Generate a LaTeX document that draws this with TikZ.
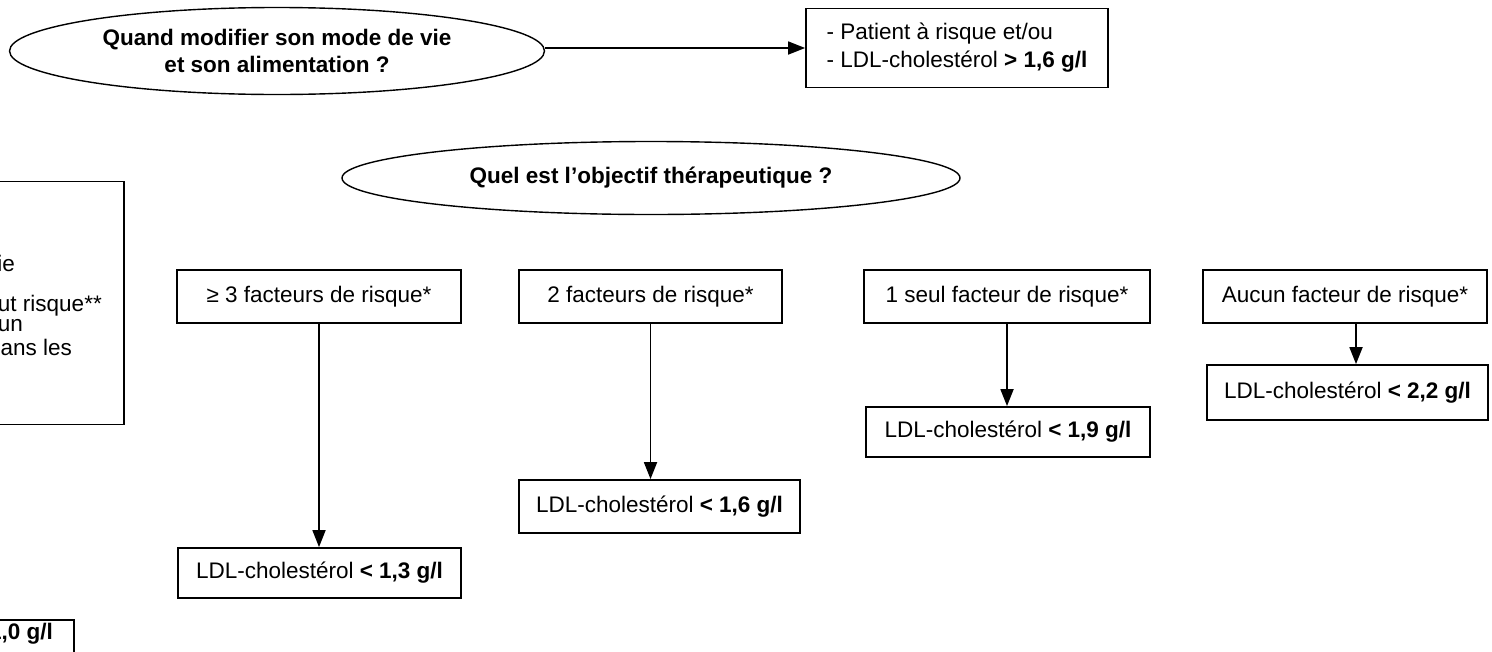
\documentclass[tikz,border=0pt]{standalone}
\usepackage{fontspec}
\setmainfont{Liberation Sans}
\usetikzlibrary{shapes.geometric,arrows.meta,calc}
\begin{document}
\begin{tikzpicture}[x=1pt,y=-1pt,
  every node/.style={font=\fontsize{22.5}{28}\selectfont},
  box/.style={draw,line width=1.8pt,rectangle,inner sep=0pt,align=center},
  oval/.style={draw,line width=1.4pt,ellipse,inner sep=0pt,align=center,font=\fontsize{22.5}{27}\selectfont\bfseries},
  arr/.style={line width=1.8pt,-{Triangle[length=17pt,width=13pt]}},
  frag/.style={anchor=east,inner sep=0pt}]
\useasboundingbox (0,0) rectangle (1492,651);
% top part
\node[oval,minimum width=535pt,minimum height=87pt] (E1) at (277,51) {Quand modifier son mode de vie\\et son alimentation ?};
\node[box,minimum width=302pt,minimum height=79pt,align=left] (P) at (957,48)
  {- Patient à risque et/ou\\- LDL-cholestérol \textbf{> 1,6 g/l}};
\draw[arr] (E1.east |- P.west) -- (P.west);
\node[oval,minimum width=618pt,minimum height=73pt] (E2) at (651,178) {Quel est l’objectif thérapeutique ?};
% left partial box
\node[box,minimum width=144pt,minimum height=243pt] (L) at (52,303) {};
\node[frag] (l1) at (15,263) {ie};
\node[frag] (l2) at (102,306) {aut risque**};
\node[frag] (l3) at (23,326) {un};
\node[frag] (l4) at (72,347) {dans les};
% bottom-left partial box
\node[box,minimum width=94pt,minimum height=60pt] (LB) at (27,650) {};
\node[frag,font=\fontsize{22.5}{28}\selectfont\bfseries] (lb) at (53,634) {1,0 g/l};
% risk boxes
\node[box,minimum width=284pt,minimum height=53pt] (B1) at (319,296.5) {≥ 3 facteurs de risque*};
\node[box,minimum width=263pt,minimum height=53pt] (B2) at (650.5,296.5) {2 facteurs de risque*};
\node[box,minimum width=286pt,minimum height=53pt] (B3) at (1007,296.5) {1 seul facteur de risque*};
\node[box,minimum width=284pt,minimum height=53pt] (B4) at (1345,296.5) {Aucun facteur de risque*};
% targets
\node[box,minimum width=283pt,minimum height=50pt] (T1) at (319.5,573) {LDL-cholestérol \textbf{< 1,3 g/l}};
\node[box,minimum width=281pt,minimum height=53pt] (T2) at (659.5,506.5) {LDL-cholestérol \textbf{< 1,6 g/l}};
\node[box,minimum width=284pt,minimum height=50pt] (T3) at (1008,432) {LDL-cholestérol \textbf{< 1,9 g/l}};
\node[box,minimum width=281pt,minimum height=55pt] (T4) at (1347.5,392.5) {LDL-cholestérol \textbf{< 2,2 g/l}};
\coordinate (b4s) at ($(B4.south)+(11,0)$);
\coordinate (t4n) at (b4s |- T4.north);
\draw[arr] (B1.south) -- (B1.south |- T1.north);
\draw[arr] (B2.south) -- (B2.south |- T2.north);
\draw[arr] (B3.south) -- (B3.south |- T3.north);
\draw[arr] (b4s) -- (t4n);
\end{tikzpicture}
\end{document}
